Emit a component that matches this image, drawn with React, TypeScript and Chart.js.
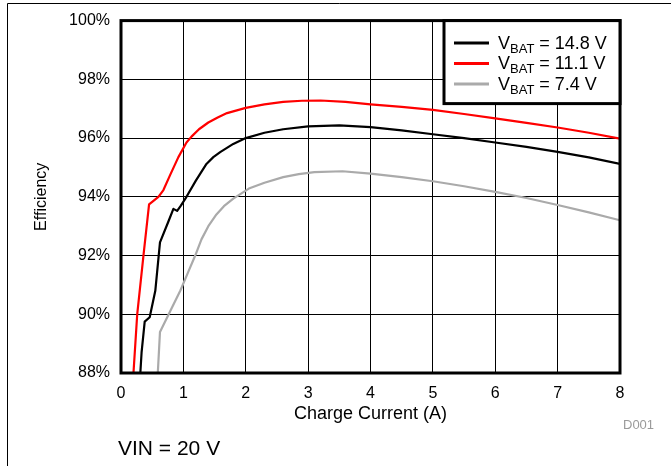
import React, { useEffect, useRef } from 'react';
import { Chart, registerables } from 'chart.js';

Chart.register(...registerables);

const X_TICKS = [0, 1, 2, 3, 4, 5, 6, 7, 8];
const Y_TICKS = [88, 90, 92, 94, 96, 98, 100];

const SERIES_NAMES = ['14.8 V', '11.1 V', '7.4 V'];
const SERIES_COLORS = ['#000000', '#ff0000', '#aaaaaa'];

const CURRENT_148 = [0.31, 0.33, 0.38, 0.46, 0.55, 0.625, 0.76, 0.84, 0.9, 0.96, 1.05, 1.2, 1.37, 1.48, 1.59, 1.8, 2.0, 2.3, 2.6, 3.0, 3.5, 4.0, 4.5, 5.0, 5.5, 6.0, 6.5, 7.0, 7.5, 8.0];
const EFF_148 = [88.0, 88.7, 89.75, 89.9, 90.8, 92.45, 93.16, 93.59, 93.52, 93.7, 94.0, 94.55, 95.12, 95.35, 95.52, 95.8, 96.0, 96.18, 96.3, 96.4, 96.43, 96.37, 96.26, 96.13, 96.0, 95.85, 95.7, 95.53, 95.34, 95.12];

const CURRENT_111 = [0.2, 0.26, 0.36, 0.45, 0.52, 0.6, 0.68, 0.785, 0.92, 1.05, 1.13, 1.25, 1.4, 1.55, 1.7, 2.0, 2.3, 2.6, 2.9, 3.2, 3.6, 4.0, 4.5, 5.0, 5.5, 6.0, 6.5, 7.0, 7.5, 8.0];
const EFF_111 = [88.0, 90.0, 92.0, 93.74, 93.86, 94.0, 94.23, 94.73, 95.35, 95.85, 96.05, 96.3, 96.53, 96.7, 96.85, 97.03, 97.15, 97.23, 97.27, 97.28, 97.23, 97.15, 97.06, 96.96, 96.82, 96.67, 96.52, 96.36, 96.18, 95.98];

const CURRENT_74 = [0.59, 0.625, 0.8, 0.95, 1.07, 1.19, 1.29, 1.4, 1.53, 1.65, 1.8, 2.05, 2.3, 2.6, 2.85, 3.1, 3.55, 4.0, 4.5, 5.0, 5.5, 6.0, 6.5, 7.0, 7.5, 8.0];
const EFF_74 = [88.0, 89.4, 90.15, 90.8, 91.4, 92.0, 92.55, 93.0, 93.4, 93.68, 93.94, 94.28, 94.48, 94.67, 94.77, 94.84, 94.87, 94.79, 94.67, 94.53, 94.36, 94.17, 93.96, 93.72, 93.47, 93.2];

const X_TITLE = 'Charge Current (A)';
const Y_TITLE = 'Efficiency';
const NOTE_TEXT = 'VIN = 20 V';
const CODE_TEXT = 'D001';

const FONT = '"Liberation Sans", Arial, Helvetica, sans-serif';

const toPoints = (xs: number[], ys: number[]) => xs.map((x, i) => ({ x, y: ys[i] }));

const decorPlugin = {
  id: 'decor',
  afterDatasetsDraw(chart: any) {
    const ctx = chart.ctx as CanvasRenderingContext2D;
    const a = chart.chartArea;
    ctx.save();
    ctx.strokeStyle = '#000';
    ctx.lineWidth = 3;
    ctx.strokeRect(a.left, a.top, a.right - a.left, a.bottom - a.top);

    const lw = 176;
    const lh = 83;
    const lx = a.right - lw;
    const ly = a.top;
    ctx.fillStyle = '#fff';
    ctx.fillRect(lx, ly, lw, lh);
    ctx.lineWidth = 3;
    ctx.strokeStyle = '#000';
    ctx.strokeRect(lx, ly, lw, lh);
    chart.data.datasets.forEach((ds: any, i: number) => {
      const base = ly + 28 + i * 20.5;
      ctx.strokeStyle = ds.borderColor;
      ctx.lineWidth = 3;
      ctx.beginPath();
      ctx.moveTo(lx + 10, base - 5.7);
      ctx.lineTo(lx + 45, base - 5.7);
      ctx.stroke();
      ctx.fillStyle = '#000';
      ctx.textBaseline = 'alphabetic';
      ctx.textAlign = 'left';
      let tx = lx + 54;
      ctx.font = '18px ' + FONT;
      ctx.fillText('V', tx, base);
      tx += ctx.measureText('V').width;
      ctx.font = '13px ' + FONT;
      ctx.fillText('BAT', tx, base + 4.3);
      tx += ctx.measureText('BAT').width;
      ctx.font = '18px ' + FONT;
      ctx.fillText(' = ' + SERIES_NAMES[i], tx, base);
    });
    ctx.restore();
  },
  afterDraw(chart: any) {
    const ctx = chart.ctx as CanvasRenderingContext2D;
    ctx.save();
    ctx.strokeStyle = '#000';
    ctx.lineWidth = 1;
    ctx.beginPath();
    ctx.moveTo(7.5, chart.height);
    ctx.lineTo(7.5, 3.5);
    ctx.lineTo(chart.width, 3.5);
    ctx.stroke();
    ctx.textBaseline = 'alphabetic';
    ctx.textAlign = 'left';
    ctx.fillStyle = '#000';
    ctx.font = '21px ' + FONT;
    ctx.fillText(NOTE_TEXT, 118, 455);
    ctx.fillStyle = '#9a9a9a';
    ctx.font = '13px ' + FONT;
    ctx.fillText(CODE_TEXT, 623, 429.3);
    ctx.restore();
  },
};

export default function App() {
  const ref = useRef<HTMLCanvasElement | null>(null);

  useEffect(() => {
    if (!ref.current) return;
    const series = [
      toPoints(CURRENT_148, EFF_148),
      toPoints(CURRENT_111, EFF_111),
      toPoints(CURRENT_74, EFF_74),
    ];
    const chart = new Chart(ref.current, {
      type: 'line',
      data: {
        datasets: series.map((pts, i) => ({
          label: 'VBAT = ' + SERIES_NAMES[i],
          data: pts,
          borderColor: SERIES_COLORS[i],
          backgroundColor: SERIES_COLORS[i],
          borderWidth: 2.2,
          pointRadius: 0,
          fill: false,
          tension: 0,
          borderJoinStyle: 'round',
        })),
      },
      options: {
        animation: false,
        responsive: false,
        devicePixelRatio: 1,
        layout: { padding: { left: 32, top: 17, right: 51, bottom: 40.7 } },
        plugins: {
          legend: { display: false },
          tooltip: { enabled: false },
        },
        font: { family: FONT },
        scales: {
          x: {
            type: 'linear',
            min: 0,
            max: 8,
            afterBuildTicks: (s: any) => {
              s.ticks = X_TICKS.map((v) => ({ value: v }));
            },
            afterFit: (s: any) => {
              s.height = 52.3;
            },
            grid: { color: '#000', lineWidth: 1, drawTicks: false },
            border: { display: false },
            ticks: {
              padding: 11,
              color: '#000',
              font: { size: 16, family: FONT },
              maxRotation: 0,
              autoSkip: false,
            },
            title: {
              display: true,
              text: X_TITLE,
              color: '#000',
              font: { size: 18, family: FONT },
              padding: 0,
            },
          },
          y: {
            type: 'linear',
            min: 88,
            max: 100,
            afterBuildTicks: (s: any) => {
              s.ticks = Y_TICKS.map((v) => ({ value: v }));
            },
            afterFit: (s: any) => {
              s.width = 89;
            },
            grid: { color: '#000', lineWidth: 1, drawTicks: false },
            border: { display: false },
            ticks: {
              padding: 11,
              color: '#000',
              font: { size: 16, family: FONT },
              callback: (v: any) => v + '%',
            },
            title: {
              display: true,
              text: Y_TITLE,
              color: '#000',
              font: { size: 16, family: FONT },
              padding: 0,
            },
          },
        },
      } as any,
      plugins: [decorPlugin],
    });
    return () => chart.destroy();
  }, []);

  return (
    <div style={{ position: 'absolute', left: 0, top: 0, width: 671, height: 466, background: '#fff' }}>
      <canvas ref={ref} width={671} height={466} style={{ width: 671, height: 466, display: 'block' }} />
    </div>
  );
}
